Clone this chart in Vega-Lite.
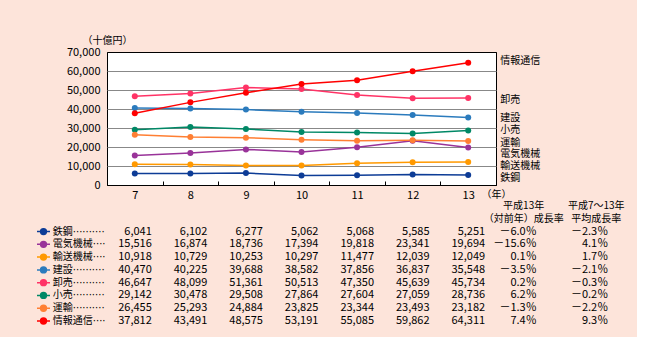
{
  "$schema": "https://vega.github.io/schema/vega-lite/v6.json",
  "background": "#fde4da",
  "padding": {"left": 34, "top": 34, "right": 12, "bottom": 10},
  "spacing": 0,
  "config": {"font": "Noto Sans CJK JP", "view": {"stroke": null}, "text": {"color": "black"}},
  "resolve": {"scale": {"x": "independent", "y": "independent"}},
  "datasets": {
    "main": [
      {"series": "鉄鋼", "year": 7, "value": 6041}, {"series": "鉄鋼", "year": 8, "value": 6102}, {"series": "鉄鋼", "year": 9, "value": 6277}, {"series": "鉄鋼", "year": 10, "value": 5062}, {"series": "鉄鋼", "year": 11, "value": 5068}, {"series": "鉄鋼", "year": 12, "value": 5585}, {"series": "鉄鋼", "year": 13, "value": 5251},
      {"series": "電気機械", "year": 7, "value": 15516}, {"series": "電気機械", "year": 8, "value": 16874}, {"series": "電気機械", "year": 9, "value": 18736}, {"series": "電気機械", "year": 10, "value": 17394}, {"series": "電気機械", "year": 11, "value": 19818}, {"series": "電気機械", "year": 12, "value": 23341}, {"series": "電気機械", "year": 13, "value": 19694},
      {"series": "輸送機械", "year": 7, "value": 10918}, {"series": "輸送機械", "year": 8, "value": 10729}, {"series": "輸送機械", "year": 9, "value": 10253}, {"series": "輸送機械", "year": 10, "value": 10297}, {"series": "輸送機械", "year": 11, "value": 11477}, {"series": "輸送機械", "year": 12, "value": 12039}, {"series": "輸送機械", "year": 13, "value": 12049},
      {"series": "建設", "year": 7, "value": 40470}, {"series": "建設", "year": 8, "value": 40225}, {"series": "建設", "year": 9, "value": 39688}, {"series": "建設", "year": 10, "value": 38582}, {"series": "建設", "year": 11, "value": 37856}, {"series": "建設", "year": 12, "value": 36837}, {"series": "建設", "year": 13, "value": 35548},
      {"series": "卸売", "year": 7, "value": 46647}, {"series": "卸売", "year": 8, "value": 48099}, {"series": "卸売", "year": 9, "value": 51361}, {"series": "卸売", "year": 10, "value": 50513}, {"series": "卸売", "year": 11, "value": 47350}, {"series": "卸売", "year": 12, "value": 45639}, {"series": "卸売", "year": 13, "value": 45734},
      {"series": "小売", "year": 7, "value": 29142}, {"series": "小売", "year": 8, "value": 30478}, {"series": "小売", "year": 9, "value": 29508}, {"series": "小売", "year": 10, "value": 27864}, {"series": "小売", "year": 11, "value": 27604}, {"series": "小売", "year": 12, "value": 27059}, {"series": "小売", "year": 13, "value": 28736},
      {"series": "運輸", "year": 7, "value": 26455}, {"series": "運輸", "year": 8, "value": 25293}, {"series": "運輸", "year": 9, "value": 24884}, {"series": "運輸", "year": 10, "value": 23825}, {"series": "運輸", "year": 11, "value": 23344}, {"series": "運輸", "year": 12, "value": 23493}, {"series": "運輸", "year": 13, "value": 23182},
      {"series": "情報通信", "year": 7, "value": 37812}, {"series": "情報通信", "year": 8, "value": 43491}, {"series": "情報通信", "year": 9, "value": 48575}, {"series": "情報通信", "year": 10, "value": 53191}, {"series": "情報通信", "year": 11, "value": 55085}, {"series": "情報通信", "year": 12, "value": 59862}, {"series": "情報通信", "year": 13, "value": 64311}
    ],
    "rlabels": [
      {"series": "情報通信", "value": 65200}, {"series": "卸売", "value": 44700}, {"series": "建設", "value": 35400}, {"series": "小売", "value": 28900},
      {"series": "運輸", "value": 22300}, {"series": "電気機械", "value": 16150}, {"series": "輸送機械", "value": 10000}, {"series": "鉄鋼", "value": 3500}
    ],
    "rows": [
      {"series": "鉄鋼", "label": "鉄鋼··········", "r1": "－6.0％", "r2": "－2.3％"},
      {"series": "電気機械", "label": "電気機械····", "r1": "－15.6％", "r2": "4.1％"},
      {"series": "輸送機械", "label": "輸送機械····", "r1": "0.1％", "r2": "1.7％"},
      {"series": "建設", "label": "建設··········", "r1": "－3.5％", "r2": "－2.1％"},
      {"series": "卸売", "label": "卸売··········", "r1": "0.2％", "r2": "－0.3％"},
      {"series": "小売", "label": "小売··········", "r1": "6.2％", "r2": "－0.2％"},
      {"series": "運輸", "label": "運輸··········", "r1": "－1.3％", "r2": "－2.2％"},
      {"series": "情報通信", "label": "情報通信····", "r1": "7.4％", "r2": "9.3％"}
    ]
  },
  "vconcat": [
    {
      "width": 389,
      "height": 133,
      "view": {"fill": "white", "stroke": "black", "strokeWidth": 1},
      "encoding": {
        "y": {"field": "value", "type": "quantitative",
          "scale": {"domain": [0, 70000]},
          "axis": {"values": [0, 10000, 20000, 30000, 40000, 50000, 60000, 70000], "format": ",d", "labelOverlap": false,
            "grid": true, "gridColor": {"condition": {"test": "datum.value === 0 || datum.value === 70000", "value": "black"}, "value": "#888888"},
            "gridWidth": 1, "ticks": false, "domain": false, "labelFontSize": 11, "labelColor": "black", "labelPadding": 7,
            "title": "（十億円）", "titleAngle": 0, "titleX": 0, "titleY": -12, "titleAlign": "center", "titleBaseline": "middle",
            "titleFontSize": 10, "titleFontWeight": "normal", "titleColor": "black"}}
      },
      "layer": [
        {
          "data": {"name": "main"},
          "mark": {"type": "line", "strokeWidth": 1.5, "point": {"filled": true, "size": 36}},
          "encoding": {
            "x": {"field": "year", "type": "ordinal", "bandPosition": 0.5,
              "scale": {"type": "band", "paddingInner": 0, "paddingOuter": 0},
              "axis": {"labelAngle": 0, "tickBand": "extent", "tickSize": -4, "tickColor": "black", "domain": false, "grid": false,
                "labelFontSize": 11, "labelColor": "black", "labelPadding": 8,
                "title": "（年）", "titleFontSize": 10, "titleFontWeight": "normal", "titleColor": "black",
                "titleX": 389, "titleY": 9, "titleAlign": "center", "titleBaseline": "middle"}},
            "color": {"field": "series", "type": "nominal",
              "scale": {"domain": ["鉄鋼", "電気機械", "輸送機械", "建設", "卸売", "小売", "運輸", "情報通信"],
                "range": ["#0d3c96", "#993399", "#ff9900", "#2b7bbd", "#ff3366", "#008866", "#ff7f33", "#ff0000"]},
              "legend": null}
          }
        },
        {
          "data": {"name": "rlabels"},
          "mark": {"type": "text", "align": "left", "baseline": "middle", "dx": 32, "fontSize": 10},
          "encoding": {
            "x": {"datum": 13, "type": "ordinal", "bandPosition": 0.5},
            "text": {"field": "series"}
          }
        }
      ]
    },
    {
      "width": 500,
      "height": 115,
      "layer": [
        {
          "data": {"name": "main"},
          "mark": {"type": "text", "align": "right", "baseline": "middle", "dx": 17, "fontSize": 11},
          "encoding": {
            "x": {"field": "year", "type": "ordinal", "bandPosition": 0.5,
              "scale": {"type": "band", "domain": [7, 8, 9, 10, 11, 12, 13, "r1", "r2"], "paddingInner": 0, "paddingOuter": 0}, "axis": null},
            "y": {"field": "series", "type": "nominal",
              "scale": {"type": "point", "domain": ["h1", "h2", "鉄鋼", "電気機械", "輸送機械", "建設", "卸売", "小売", "運輸", "情報通信"], "padding": 0}, "axis": null},
            "text": {"field": "value", "type": "quantitative", "format": ","}
          }
        },
        {
          "data": {"name": "rows"},
          "mark": {"type": "text", "align": "right", "baseline": "middle", "dx": 13, "fontSize": 11},
          "encoding": {
            "x": {"datum": "r1", "type": "ordinal", "bandPosition": 0.5},
            "y": {"field": "series", "type": "nominal"},
            "text": {"field": "r1"}
          }
        },
        {
          "data": {"name": "rows"},
          "mark": {"type": "text", "align": "right", "baseline": "middle", "dx": 29, "fontSize": 11},
          "encoding": {
            "x": {"datum": "r2", "type": "ordinal", "bandPosition": 0.5},
            "y": {"field": "series", "type": "nominal"},
            "text": {"field": "r2"}
          }
        },
        {
          "data": {"name": "rows"},
          "mark": {"type": "text", "align": "left", "baseline": "middle", "dx": -82, "fontSize": 10, "font": "DejaVu Sans, Noto Sans CJK JP"},
          "encoding": {
            "x": {"datum": 7, "type": "ordinal", "bandPosition": 0.5},
            "y": {"field": "series", "type": "nominal"},
            "text": {"field": "label"}
          }
        },
        {
          "data": {"name": "rows"},
          "mark": {"type": "point", "filled": true, "size": 169, "strokeWidth": 1.5,
            "shape": "M-1,0L1,0M-0.45,0A0.45,0.45,0,1,1,0.45,0A0.45,0.45,0,1,1,-0.45,0Z", "opacity": 1},
          "encoding": {
            "x": {"datum": 7, "type": "ordinal"},
            "xOffset": {"value": -63.5},
            "y": {"field": "series", "type": "nominal"},
            "color": {"field": "series", "type": "nominal",
              "scale": {"domain": ["鉄鋼", "電気機械", "輸送機械", "建設", "卸売", "小売", "運輸", "情報通信"],
                "range": ["#0d3c96", "#993399", "#ff9900", "#2b7bbd", "#ff3366", "#008866", "#ff7f33", "#ff0000"]},
              "legend": null},
            "stroke": {"field": "series", "type": "nominal",
              "scale": {"domain": ["鉄鋼", "電気機械", "輸送機械", "建設", "卸売", "小売", "運輸", "情報通信"],
                "range": ["#0d3c96", "#993399", "#ff9900", "#2b7bbd", "#ff3366", "#008866", "#ff7f33", "#ff0000"]},
              "legend": null}
          }
        },
        {
          "data": {"values": [{}]},
          "mark": {"type": "text", "align": "center", "baseline": "middle", "fontSize": 10, "lineHeight": 12.8},
          "encoding": {
            "x": {"datum": "r1", "type": "ordinal", "bandPosition": 0.5},
            "y": {"datum": "h1", "type": "nominal"},
            "text": {"value": ["平成13年", "（対前年）成長率"]}
          }
        },
        {
          "data": {"values": [{}]},
          "mark": {"type": "text", "align": "center", "baseline": "middle", "fontSize": 10, "lineHeight": 12.8, "dx": 17},
          "encoding": {
            "x": {"datum": "r2", "type": "ordinal", "bandPosition": 0.5},
            "y": {"datum": "h1", "type": "nominal"},
            "text": {"value": ["平成7～13年", "平均成長率"]}
          }
        }
      ]
    }
  ]
}
